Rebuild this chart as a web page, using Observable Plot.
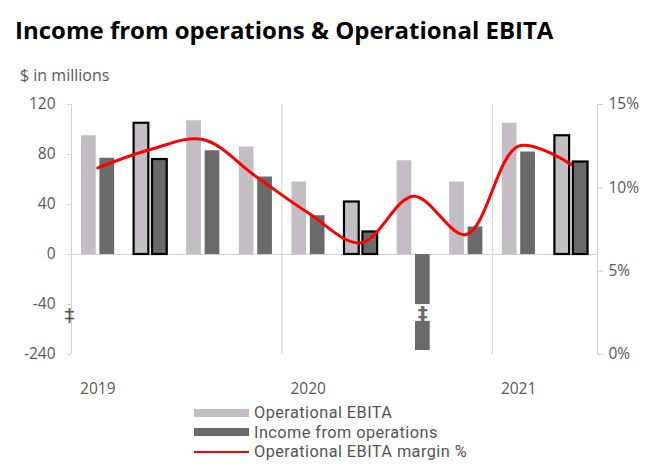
<!DOCTYPE html>
<html>
<head>
<meta charset="utf-8">
<script src="https://cdn.jsdelivr.net/npm/d3@7"></script>
<script src="https://cdn.jsdelivr.net/npm/@observablehq/plot@0.6"></script>
<style>
  html, body { margin: 0; padding: 0; background: #fff; }
  body { width: 669px; height: 467px; position: relative; overflow: hidden; font-family: "Open Sans", "Noto Sans", sans-serif; }
  #title { position: absolute; left: 15px; top: 18px; font-size: 24px; font-weight: 700; line-height: 24px; color: #000; white-space: nowrap; }
  #subtitle { position: absolute; left: 20px; top: 67px; font-size: 16px; line-height: 16px; color: #595959; white-space: nowrap; }
  #chart { position: absolute; left: 0; top: 92px; }
  #legend { position: absolute; left: 194px; top: 403px; font-family: Roboto, "Open Sans", sans-serif; font-size: 16.3px; color: #555; }
  .row { display: flex; align-items: center; height: 19.6px; white-space: nowrap; }
  .row span { line-height: 17px; letter-spacing: 0.45px; }
  .sw { width: 55px; margin-right: 5px; }
</style>
</head>
<body>
<div id="title">Income from operations &amp; Operational EBITA</div>
<div id="subtitle">$ in millions</div>
<div id="chart"></div>
<div id="legend"></div>
<script>
// ---- data ----
const quarters = ["Q1 2019", "Q2 2019", "Q3 2019", "Q4 2019", "Q1 2020", "Q2 2020", "Q3 2020", "Q4 2020", "Q1 2021", "Q2 2021"];
const operationalEbita = [95, 105, 107, 86, 58, 42, 75, 58, 105, 95];
const incomeFromOperations = [77, 76, 83, 62, 31, 18, -224, 22, 82, 74];
const ebitaMarginPct = [11.2, 12.3, 12.9, 10.7, 8.5, 6.7, 9.5, 7.2, 12.5, 11.4];
const leftTicks = [-240, -40, 0, 40, 80, 120];
const rightTicksPct = [0, 5, 10, 15];
const yearLabels = ["2019", "2020", "2021"];
const seriesNames = ["Operational EBITA", "Income from operations", "Operational EBITA margin %"];

// ---- styling ----
const LIGHT = "#c3bec3";
const DARK = "#6a6a6a";
const RED = "#ff0000";
const GRID = "#cfd2cf";
const TXT = "#595959";
const FONT = "'Open Sans', 'Noto Sans', sans-serif";

// broken left axis: [-240,-40] compressed into [-80,-40]
const BREAK_HI = -40, BREAK_LO = -240, DISP_LO = -80, DISP_HI = 120;
const disp = v => v >= BREAK_HI ? v : BREAK_HI + (v - BREAK_HI) * (BREAK_HI - DISP_LO) / (BREAK_HI - BREAK_LO);
const undisp = d => d >= BREAK_HI ? d : BREAK_HI + (d - BREAK_HI) * (BREAK_HI - BREAK_LO) / (BREAK_HI - DISP_LO);
const GAP_TOP = -40.6, GAP_BOT = -53.5, GAP_MID = (GAP_TOP + GAP_BOT) / 2;
// right axis (percent) mapped onto same y scale
const PCT_MAX = 15;
const pctDisp = p => DISP_LO + p / PCT_MAX * (DISP_HI - DISP_LO);
const pctUndisp = d => (d - DISP_LO) / (DISP_HI - DISP_LO) * PCT_MAX;

const rows = quarters.map((q, i) => ({
  i, q,
  ebita: operationalEbita[i],
  inc: incomeFromOperations[i],
  m: ebitaMarginPct[i],
  hl: q.startsWith("Q2")
}));

// bar segments (split the broken bar)
const darkSegs = [];
for (const r of rows) {
  if (r.inc < BREAK_HI) {
    darkSegs.push({ ...r, y1: 0, y2: BREAK_HI });
    darkSegs.push({ ...r, y1: GAP_BOT, y2: disp(r.inc) });
  } else {
    darkSegs.push({ ...r, y1: 0, y2: r.inc });
  }
}
const brokenBars = rows.filter(r => r.inc < BREAK_HI);

const L1 = -0.31, L2 = -0.03, D1 = 0.04, D2 = 0.32;
const X0 = -0.5, X1 = quarters.length - 0.5;
// year labels sit under the first quarter of each year
const yearTickX = yearLabels.map(y => quarters.findIndex(q => q.endsWith(y)));
const separators = yearTickX.slice(1).map(i => i - 0.5);

const chart = Plot.plot({
  width: 669,
  height: 307,
  marginLeft: 71,
  marginRight: 72,
  marginTop: 12,
  marginBottom: 45,
  style: { fontFamily: FONT, fontSize: "15.5px", background: "transparent" },
  x: { type: "linear", domain: [X0, X1] },
  y: { domain: [DISP_LO, DISP_HI] },
  marks: [
    Plot.ruleX(separators, { y1: DISP_LO, y2: DISP_HI, stroke: GRID }),
    Plot.ruleX([X0, X1], { y1: DISP_LO, y2: DISP_HI, stroke: GRID }),
    Plot.ruleY([0], { x1: X0, x2: X1, stroke: GRID }),
    Plot.rect(rows, { x1: d => d.i + L1, x2: d => d.i + L2, y1: 0, y2: d => d.ebita, fill: LIGHT }),
    Plot.rect(darkSegs, { x1: d => d.i + D1, x2: d => d.i + D2, y1: d => d.y1, y2: d => d.y2, fill: DARK }),
    Plot.rect(rows.filter(d => d.hl), { x1: d => d.i + L1, x2: d => d.i + L2, y1: 0, y2: d => d.ebita, fill: "none", stroke: "#000", strokeWidth: 2.2 }),
    Plot.rect(rows.filter(d => d.hl), { x1: d => d.i + D1, x2: d => d.i + D2, y1: 0, y2: d => d.inc, fill: "none", stroke: "#000", strokeWidth: 2.2 }),
    // break marks
    Plot.text(brokenBars, { x: d => d.i + (D1 + D2) / 2, y: GAP_MID, text: () => "‡", fill: DARK, fontSize: 20, fontFamily: "DejaVu Sans", fontWeight: "bold" }),
    Plot.text([0], { x: X0, y: GAP_MID - 2, text: () => "‡", fill: "#555", fontSize: 20, fontFamily: "DejaVu Sans", dx: -2 }),
    // margin line
    Plot.line(rows, { x: "i", y: d => pctDisp(d.m), stroke: RED, strokeWidth: 3, curve: "catmull-rom" }),
    // axes
    Plot.axisY(leftTicks.map(disp), { anchor: "left", tickSize: 4, tickPadding: 12, stroke: GRID, fill: TXT, tickFormat: d => String(undisp(d)), label: null }),
    Plot.axisY(rightTicksPct.map(pctDisp), { anchor: "right", tickSize: 5, tickPadding: 6, stroke: GRID, fill: TXT, tickFormat: d => Math.round(pctUndisp(d)) + "%", label: null }),
    Plot.axisX(yearTickX, { anchor: "bottom", tickSize: 0, tickPadding: 28, fill: TXT, tickFormat: d => yearLabels[yearTickX.indexOf(d)], label: null })
  ]
});
document.getElementById("chart").appendChild(chart);

// legend
const legend = document.getElementById("legend");
const swatches = [
  `<div class="sw" style="height:8px;background:${LIGHT}"></div>`,
  `<div class="sw" style="height:8px;background:${DARK}"></div>`,
  `<div class="sw" style="height:2.5px;background:${RED}"></div>`
];
seriesNames.forEach((name, k) => {
  const row = document.createElement("div");
  row.className = "row";
  row.innerHTML = swatches[k] + `<span>${name}</span>`;
  legend.appendChild(row);
});
</script>
</body>
</html>
